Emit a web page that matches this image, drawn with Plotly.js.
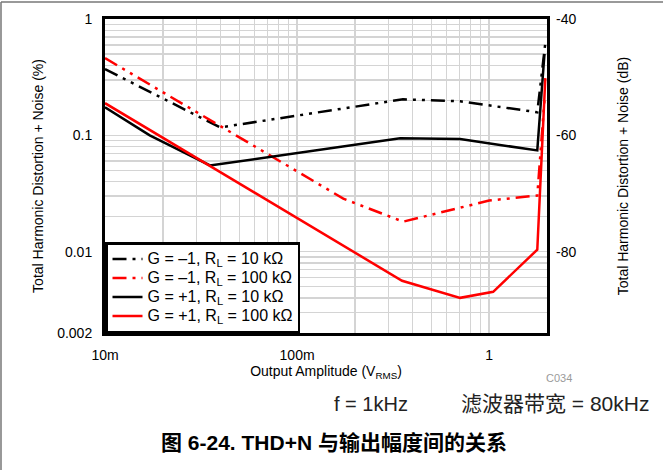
<!DOCTYPE html>
<html><head><meta charset="utf-8">
<script src="https://cdn.plot.ly/plotly-3.0.1.min.js"></script>
<style>body{margin:0;padding:0;background:#fff}#chart{width:663px;height:470px}</style>
</head><body><div id="chart"></div>
<script>
// Output amplitude (V RMS) and THD+N (%) per series
const gm1_10k_x  = [0.01, 0.0397, 0.356, 0.706, 1.78, 1.96];
const gm1_10k_y  = [0.371, 0.117, 0.204, 0.196, 0.158, 0.621];
const gm1_100k_x = [0.01, 0.174, 0.356, 1.0, 1.78, 1.94];
const gm1_100k_y = [0.461, 0.0286, 0.0181, 0.0275, 0.0304, 0.20];
const gp1_10k_x  = [0.01, 0.0171, 0.0352, 0.344, 0.706, 1.78, 1.94];
const gp1_10k_y  = [0.174, 0.100, 0.0551, 0.0942, 0.0928, 0.0742, 0.50];
const gp1_100k_x = [0.01, 0.352, 0.706, 1.049, 1.78, 1.96];
const gp1_100k_y = [0.189, 0.00562, 0.00401, 0.00452, 0.0104, 0.31];

const seriesNames = [
  'G = –1, R<sub>L</sub> = 10 kΩ',
  'G = –1, R<sub>L</sub> = 100 kΩ',
  'G = +1, R<sub>L</sub> = 10 kΩ',
  'G = +1, R<sub>L</sub> = 100 kΩ'
];

const xTickVals = [0.01,0.02,0.03,0.04,0.05,0.06,0.07,0.08,0.09,0.1,0.2,0.3,0.4,0.5,0.6,0.7,0.8,0.9,1,2];
const xTickText = ['10m','','','','','','','','','100m','','','','','','','','','1',''];
const yTickVals = [0.002,0.003,0.004,0.005,0.006,0.007,0.008,0.009,0.01,0.02,0.03,0.04,0.05,0.06,0.07,0.08,0.09,0.1,0.2,0.3,0.4,0.5,0.6,0.7,0.8,0.9,1];
const yTickText = ['0.002','','','','','','','','0.01','','','','','','','','','0.1','','','','','','','','','1'];
const y2TickVals = [-40,-60,-80];
const y2TickText = ['-40','-60','-80'];

const DASH = '14px,6px,3px,6px,3px,6px';
const big = s => '<span style="font-size:16px">' + s + '</span>';
const traces = [
  {x:gm1_10k_x, y:gm1_10k_y, name:big(seriesNames[0]), mode:'lines', line:{color:'#000', width:2.5, dash:DASH}},
  {x:gm1_100k_x, y:gm1_100k_y, name:big(seriesNames[1]), mode:'lines', line:{color:'#ff0000', width:2.5, dash:DASH}},
  {x:gp1_10k_x, y:gp1_10k_y, name:big(seriesNames[2]), mode:'lines', line:{color:'#000', width:2.5}},
  {x:gp1_100k_x, y:gp1_100k_y, name:big(seriesNames[3]), mode:'lines', line:{color:'#ff0000', width:2.5}},
  {x:[], y:[], yaxis:'y2', showlegend:false, hoverinfo:'skip', mode:'lines'}
];

const FONT = '"Liberation Sans", Arial, Helvetica, sans-serif';
const CJK = '"Liberation Sans", "Noto Sans CJK SC", sans-serif';
const GRID = '#d4d4d4';

const layout = {
  width:663, height:470,
  margin:{l:105, r:116, t:19, b:137, pad:0},
  paper_bgcolor:'#fff', plot_bgcolor:'#fff',
  font:{family:FONT, size:14, color:'#000'},
  showlegend:true,
  legend:{x:0, y:0, xanchor:'left', yanchor:'bottom', bgcolor:'#fff', bordercolor:'#000', borderwidth:2.5,
          font:{family:FONT, size:12, color:'#000'}, tracegroupgap:0},
  xaxis:{type:'log', range:[-2, Math.log10(2)], tickmode:'array', tickvals:xTickVals, ticktext:xTickText,
         showgrid:true, gridcolor:GRID, gridwidth:1.5, showline:true, linecolor:'#000', linewidth:3, mirror:true,
         ticks:'', ticklabelstandoff:7, zeroline:false,
         title:{text:'Output Amplitude (V<sub>RMS</sub>)', standoff:4, font:{family:FONT, size:14}}},
  yaxis:{type:'log', range:[Math.log10(0.002), 0], tickmode:'array', tickvals:yTickVals, ticktext:yTickText,
         showgrid:true, gridcolor:GRID, gridwidth:1.5, showline:true, linecolor:'#000', linewidth:3, mirror:true,
         ticks:'', ticklabelstandoff:7, zeroline:false,
         title:{text:'Total Harmonic Distortion + Noise (%)', standoff:11, font:{family:FONT, size:14}}},
  yaxis2:{overlaying:'y', side:'right', range:[20*Math.log10(0.002/100), -40], tickmode:'array',
          tickvals:y2TickVals, ticktext:y2TickText, showgrid:false, zeroline:false, showline:false,
          ticks:'', ticklabelstandoff:8,
          title:{text:'Total Harmonic Distortion + Noise (dB)', standoff:42, font:{family:FONT, size:14}}},
  annotations:[
    {xref:'paper', yref:'paper', x:1.027, y:-0.143, text:'C034', showarrow:false, xanchor:'center', yanchor:'middle',
     font:{family:FONT, size:11, color:'#9a9a9a'}},
    {xref:'paper', yref:'paper', x:0.602, y:-0.226, text:'f = 1kHz', showarrow:false, xanchor:'center', yanchor:'middle',
     font:{family:FONT, size:20, color:'#222'}},
    {xref:'paper', yref:'paper', x:1.018, y:-0.226, text:'滤波器带宽 = 80kHz', showarrow:false, xanchor:'center', yanchor:'middle',
     font:{family:CJK, size:21, color:'#222'}},
    {xref:'paper', yref:'paper', x:0.518, y:-0.350, text:'<b>图 6-24. THD+N 与输出幅度间的关系</b>', showarrow:false,
     xanchor:'center', yanchor:'middle', font:{family:CJK, size:21, color:'#000'}}
  ],
  shapes:[
    {type:'line', xref:'paper', yref:'paper', x0:-0.2353, x1:1.27, y0:1.054, y1:1.054, line:{color:'#777', width:1.5}},
    {type:'line', xref:'paper', yref:'paper', x0:-0.2353, x1:-0.2353, y0:1.054, y1:-0.5, line:{color:'#777', width:1.5}}
  ]
};

Plotly.newPlot('chart', traces, layout, {displayModeBar:false, staticPlot:true});
</script>
</body></html>
